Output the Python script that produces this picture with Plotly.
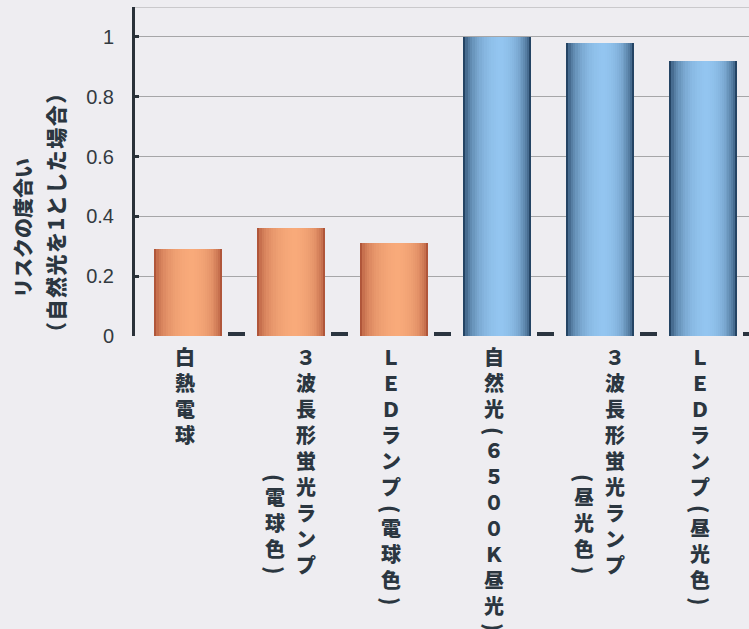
import plotly.graph_objects as go

# ---------------- data ----------------
categories = [
    "白熱電球",
    "3波長形蛍光ランプ（電球色）",
    "LEDランプ（電球色）",
    "自然光（6500K昼光）",
    "3波長形蛍光ランプ（昼光色）",
    "LEDランプ（昼光色）",
]
# vertical label columns (right column first, as in vertical Japanese writing)
label_columns = [
    ["白熱電球"],
    ["３波長形蛍光ランプ", "（電球色）"],
    ["ＬＥＤランプ（電球色）"],
    ["自然光（６５００Ｋ昼光）"],
    ["３波長形蛍光ランプ", "（昼光色）"],
    ["ＬＥＤランプ（昼光色）"],
]
risk = [0.29, 0.36, 0.31, 1.00, 0.98, 0.92]
small_series = [0.015, 0.015, 0.015, 0.015, 0.015, 0.015]
group = ["warm", "warm", "warm", "day", "day", "day"]
tick_vals = [0, 0.2, 0.4, 0.6, 0.8, 1.0]
tick_text = ["0", "0.2", "0.4", "0.6", "0.8", "1"]
y_title_lines = ["リスクの度合い", "（自然光を1とした場合）"]

# ---------------- styling helpers ----------------
BG = "#eeedf1"
TEXT = "#2b3640"
GRID = "#a6a6a8"
CJK = "Noto Sans CJK JP, sans-serif"


def hex2rgb(h):
    h = h.lstrip("#")
    return [int(h[i:i + 2], 16) for i in (0, 2, 4)]


def mix(c1, c2, t):
    a, b = hex2rgb(c1), hex2rgb(c2)
    return "rgb(%d,%d,%d)" % tuple(round(a[i] + (b[i] - a[i]) * t) for i in range(3))


palettes = {"warm": ("#b0563a", "#f8aa7a"), "day": ("#244464", "#93c5f0")}

x = list(range(len(categories)))
fig = go.Figure()

bar_w = 0.66
n_layers = 16
for key, (edge, center) in palettes.items():
    idx = [i for i, g in enumerate(group) if g == key]
    xs = [x[i] for i in idx]
    ys = [risk[i] for i in idx]
    names = [categories[i] for i in idx]
    for k in range(n_layers):
        u = 1 - k / n_layers          # normalized half width of this layer
        w = bar_w * u
        t = (1 - u ** 2) ** 0.55
        shift = 0.035 * (1 - u)
        fig.add_trace(go.Bar(
            x=xs, y=ys, width=w, offset=-w / 2 + shift,
            marker=dict(color=mix(edge, center, t), line=dict(width=0)),
            hovertext=names, hoverinfo="text+y" if k == 0 else "skip",
            showlegend=False,
        ))

fig.add_trace(go.Bar(
    x=x, y=small_series, width=0.17, offset=0.385,
    marker=dict(color="#2b3540", line=dict(width=0)),
    showlegend=False, hoverinfo="skip",
))

# ---------------- vertical category labels ----------------
annotations = []
FS = 20
PITCH = 26
PAREN_PITCH = 14
PLOT_BOTTOM = 336
MAIN_TOP = 347      # glyph top (px) of first char of the main column
SECOND_TOP = 472    # glyph top (px) of first char of the second column


def tokens(text):
    out, run = [], ""
    for ch in text:
        if ch in "（）":
            if run:
                out.append(run)
                run = ""
            out.append(ch)
        else:
            run += ch
    if run:
        out.append(run)
    return out


for i, cols in enumerate(label_columns):
    if len(cols) == 1:
        specs = [(cols[0], -3, MAIN_TOP)]
    else:
        specs = [(cols[0], 15, MAIN_TOP), (cols[1], -16, SECOND_TOP)]
    for text, xs_, top in specs:
        g = top
        for tok in tokens(text):
            if tok in ("（", "）"):
                if tok == "（":
                    g += 1
                annotations.append(dict(
                    x=x[i], xref="x", y=0, yref="paper", yanchor="top",
                    xanchor="center", xshift=xs_, yshift=-(g - 1 - PLOT_BOTTOM),
                    text="(" if tok == "（" else ")", textangle=90, showarrow=False,
                    font=dict(family=CJK, size=FS + 1, color=TEXT, weight=900),
                ))
                g += PAREN_PITCH
            else:
                annotations.append(dict(
                    x=x[i], xref="x", y=0, yref="paper", yanchor="top",
                    xanchor="center", xshift=xs_, yshift=-(g - 7 - PLOT_BOTTOM),
                    text="<br>".join(tok), showarrow=False, align="center",
                    font=dict(family=CJK, size=FS, color=TEXT, weight=900),
                ))
                g += PITCH * len(tok)

# ---------------- y axis title (two rotated lines) ----------------
annotations.append(dict(
    x=0, xref="paper", y=0.328, yref="paper", xanchor="center", yanchor="middle",
    xshift=-113, textangle=-90, showarrow=False,
    text=y_title_lines[0],
    font=dict(family=CJK, size=20, color=TEXT, weight=900),
))
annotations.append(dict(
    x=0, xref="paper", y=0.377, yref="paper", xanchor="center", yanchor="middle",
    xshift=-80, textangle=-90, showarrow=False,
    text='<span style="letter-spacing:1.5px">%s</span>' % y_title_lines[1],
    font=dict(family=CJK, size=21, color=TEXT, weight=900),
))

fig.update_layout(
    width=749, height=629,
    margin=dict(l=135, r=0, t=7, b=293),
    paper_bgcolor=BG, plot_bgcolor=BG,
    barmode="overlay",
    bargap=0,
    annotations=annotations,
    shapes=[dict(type="line", xref="paper", x0=0, x1=1, yref="y", y0=1.1, y1=1.1,
                 line=dict(color=GRID, width=1), layer="below")],
    showlegend=False,
)
fig.update_xaxes(
    range=[-0.515, 5.447], showticklabels=False, showgrid=False,
    zeroline=False, showline=False, fixedrange=True,
)
fig.update_yaxes(
    range=[0, 1.1], tickvals=tick_vals, ticktext=tick_text,
    showgrid=True, gridcolor=GRID, gridwidth=1, zeroline=False,
    showline=True, linecolor="#2a3139", linewidth=3,
    ticks="inside", ticklen=4, tickwidth=3, tickcolor="#2a3139",
    ticklabelstandoff=14,
    tickfont=dict(family="Liberation Sans, Arial, sans-serif", size=20, color="#333a40"),
    fixedrange=True,
)

fig.write_html("out.html")
